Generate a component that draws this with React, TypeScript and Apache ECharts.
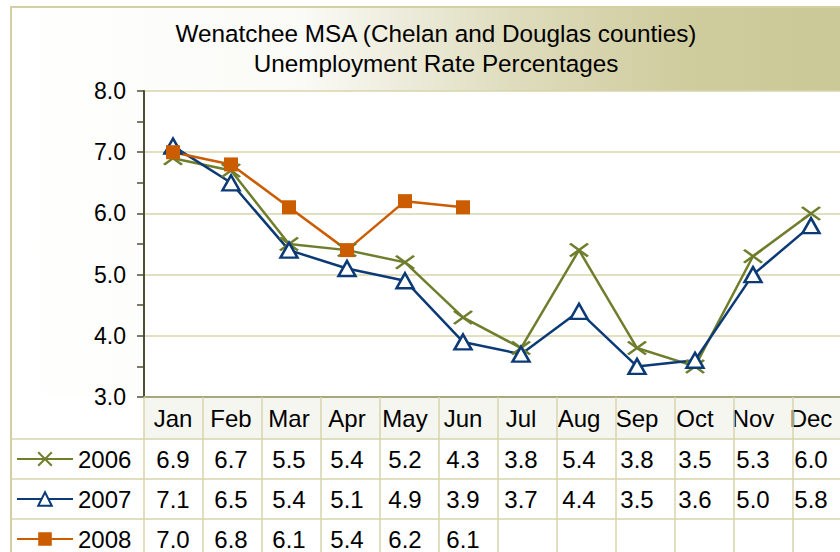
import React, { useEffect, useRef } from "react";
import * as echarts from "echarts";

const months = ["Jan", "Feb", "Mar", "Apr", "May", "Jun", "Jul", "Aug", "Sep", "Oct", "Nov", "Dec"];
const years = ["2006", "2007", "2008"];
const v2006 = [6.9, 6.7, 5.5, 5.4, 5.2, 4.3, 3.8, 5.4, 3.8, 3.5, 5.3, 6.0];
const v2007 = [7.1, 6.5, 5.4, 5.1, 4.9, 3.9, 3.7, 4.4, 3.5, 3.6, 5.0, 5.8];
const v2008: (number | null)[] = [7.0, 6.8, 6.1, 5.4, 6.2, 6.1, null, null, null, null, null, null];
const yMin = 3;
const yMax = 8;
const yInterval = 1;
const titleLines = ["Wenatchee MSA (Chelan and Douglas counties)", "Unemployment Rate Percentages"];

const C2006 = "#6e7e2c";
const C2007 = "#0c3a76";
const C2008 = "#cc5c00";
const GRIDC = "#d7d5ab";
const FONT = "'Liberation Sans', Arial, sans-serif";

const GL = 144, GT = 91, GW = 708, GH = 306;
const CAT = GW / 12;

export default function App() {
  const ref = useRef<HTMLDivElement>(null);
  useEffect(() => {
    if (!ref.current) return;
    const chart = echarts.init(ref.current, null, { renderer: "svg" });
    const fmt = (a: (number | null)[]) => a.map((v) => (v == null ? "" : v.toFixed(1)));
    const bottom = GT + GH;
    const graphics: any[] = [
      {
        type: "rect",
        z: -10,
        shape: { x: 11, y: 7, width: 840, height: 560 },
        style: {
          fill: new echarts.graphic.LinearGradient(0, 0, 1, 0, [
            { offset: 0, color: "#ffffff" },
            { offset: 0.35, color: "#fafaf6" },
            { offset: 0.6, color: "#dedcbc" },
            { offset: 0.8, color: "#cfcc9e" },
            { offset: 1, color: "#cbc897" },
          ]),
          stroke: "#d2d0a2",
          lineWidth: 2,
        },
      },
      { type: "rect", z: -9, shape: { x: 12, y: bottom, width: 840, height: 160 }, style: { fill: "#ffffff" } },
      { type: "rect", z: -8, shape: { x: GL, y: bottom, width: GW, height: 42 }, style: { fill: "#f6f6f1" } },
    ];
    [439, 479, 519].forEach((y) =>
      graphics.push({ type: "line", z: 5, shape: { x1: 11, y1: y, x2: 852, y2: y }, style: { stroke: GRIDC, lineWidth: 1.5 } })
    );
    for (let i = 0; i <= 12; i++) {
      const x = GL + i * CAT;
      graphics.push({ type: "line", z: 5, shape: { x1: x, y1: bottom, x2: x, y2: 560 }, style: { stroke: GRIDC, lineWidth: 1.5 } });
    }
    const valueAxis = (data: string[], offset: number) => ({
      type: "category",
      data,
      position: "bottom",
      offset,
      axisLine: { show: false },
      axisTick: { show: false },
      axisLabel: { fontSize: 24, fontFamily: FONT, color: "#000", margin: 9, interval: 0 },
    });
    const legendTops = [447, 487, 527];
    chart.setOption({
      animation: false,
      title: {
        text: titleLines.join("\n"),
        left: 431,
        top: 13,
        textAlign: "center",
        textStyle: { fontSize: 24.3, fontWeight: "normal", fontFamily: FONT, color: "#000", lineHeight: 30 },
      },
      graphic: graphics,
      legend: years.map((y, i) => ({
        data: [y],
        orient: "vertical",
        left: 16,
        top: legendTops[i],
        padding: 0,
        itemWidth: 56,
        itemHeight: 17,
        itemGap: 0,
        textStyle: { fontSize: 24, fontFamily: FONT, color: "#000" },
      })),
      grid: { left: GL, top: GT, width: GW, height: GH, show: true, backgroundColor: "#ffffff", borderWidth: 0 },
      xAxis: [
        {
          type: "category",
          data: months,
          boundaryGap: true,
          axisLine: { show: true, lineStyle: { color: "#a9a77c", width: 2 } },
          axisTick: { show: false },
          axisLabel: { fontSize: 24, fontFamily: FONT, color: "#000", margin: 9, interval: 0 },
        },
        valueAxis(fmt(v2006), 41),
        valueAxis(fmt(v2007), 81),
        valueAxis(fmt(v2008), 121),
      ],
      yAxis: {
        type: "value",
        min: yMin,
        max: yMax,
        interval: yInterval,
        axisLine: { show: true, lineStyle: { color: "#4e4e36", width: 2 } },
        axisTick: { show: true, length: 7, lineStyle: { color: "#4e4e36", width: 1.5 } },
        minorTick: { show: true, splitNumber: 2, length: 7, lineStyle: { color: "#4e4e36", width: 1.5 } },
        splitLine: { show: true, lineStyle: { color: GRIDC, width: 1.5 } },
        axisLabel: { fontSize: 23, fontFamily: FONT, color: "#000", margin: 18, formatter: (v: number) => v.toFixed(1) },
      },
      series: [
        {
          name: "2006",
          type: "line",
          data: v2006,
          color: C2006,
          symbol: "path://M0,0L10,10M10,0L0,10",
          symbolSize: [18, 13],
          lineStyle: { color: C2006, width: 2.5 },
          itemStyle: { color: C2006, borderColor: C2006, borderWidth: 2.5 },
        },
        {
          name: "2007",
          type: "line",
          data: v2007,
          color: C2007,
          symbol: "triangle",
          symbolSize: [17, 15],
          lineStyle: { color: C2007, width: 2.5 },
          itemStyle: { color: "#ffffff", borderColor: C2007, borderWidth: 2.5 },
        },
        {
          name: "2008",
          type: "line",
          data: v2008,
          color: C2008,
          symbol: "rect",
          symbolSize: 14,
          lineStyle: { color: C2008, width: 2.5 },
          itemStyle: { color: C2008 },
        },
      ],
    });
    return () => chart.dispose();
  }, []);
  return <div ref={ref} style={{ position: "fixed", left: 0, top: 0, width: 840, height: 552, background: "#fff" }} />;
}
